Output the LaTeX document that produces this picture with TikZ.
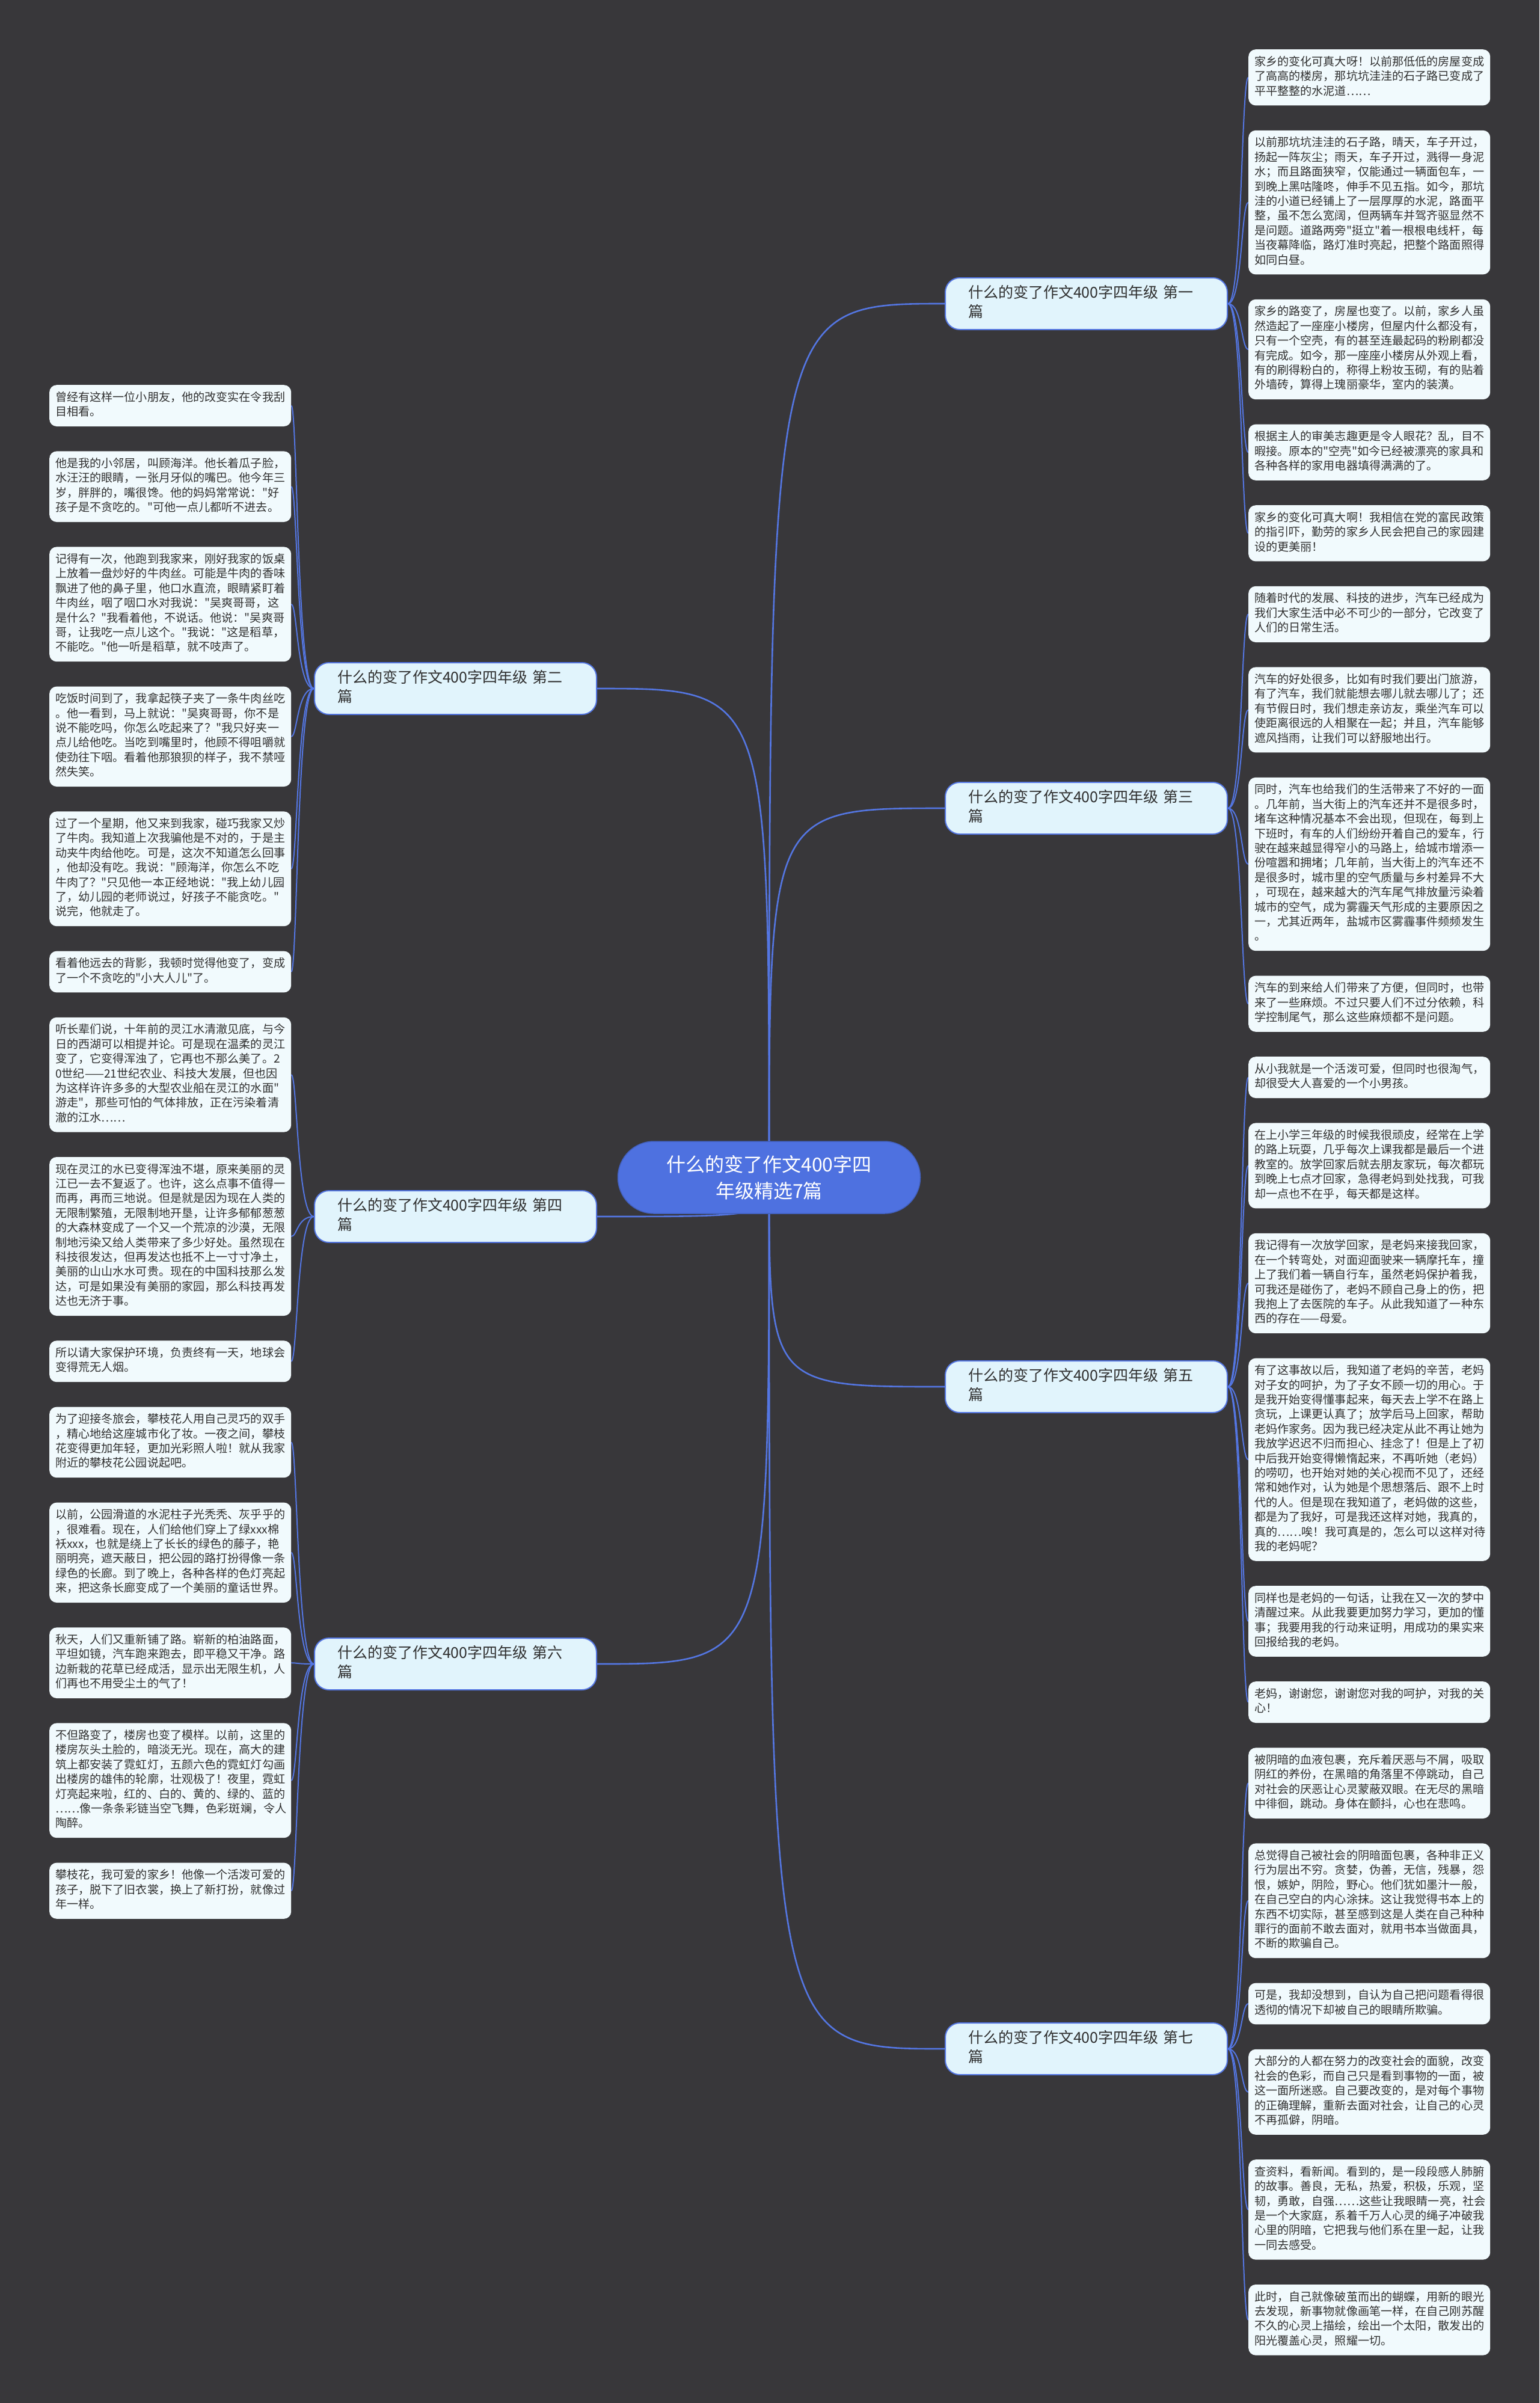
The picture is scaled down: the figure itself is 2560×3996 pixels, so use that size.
\documentclass[tikz,border=0pt]{standalone}
\usepackage{fontspec}
\setmainfont{Noto Sans CJK SC}
\newfontfamily\cjkfont{Noto Sans CJK SC}
\usetikzlibrary{positioning,backgrounds}
\definecolor{canvasgray}{RGB}{56,55,58}
\definecolor{rootblue}{RGB}{78,113,224}
\definecolor{linkblue}{RGB}{84,118,226}
\definecolor{branchfill}{RGB}{225,244,252}
\definecolor{leaffill}{RGB}{241,250,253}
\definecolor{inkdark}{RGB}{48,48,48}

\begin{document}
\begin{tikzpicture}[
  x=1pt, y=-1pt,
  root/.style={rounded corners=60pt, fill=rootblue, draw=rootblue!85!black,
               line width=1.5pt, minimum width=503pt, minimum height=120pt,
               align=center, text=white,
               font=\cjkfont\fontsize{32pt}{44pt}\selectfont},
  branch/.style={rounded corners=24pt, fill=branchfill, draw=linkblue,
                 line width=2pt, text width=393pt, inner xsep=38pt,
                 inner ysep=11pt, align=left, text=inkdark,
                 font=\cjkfont\fontsize{25pt}{32pt}\selectfont,
                 execute at begin node=\strut, execute at end node=\strut},
  leaf/.style={rounded corners=12pt, fill=leaffill, text width=382pt,
               inner xsep=10pt, inner ysep=10pt, align=left, text=inkdark,
               font=\cjkfont\fontsize{19.1pt}{24.4pt}\selectfont,
               execute at begin node=\strut, execute at end node=\strut},
  link/.style={draw=linkblue, line width=2pt},
  trunk/.style={draw=linkblue, line width=2.6pt},
]
\useasboundingbox (0,0) rectangle (2560,3996);

% -------------------------------------------------------------------------
% Root and the seven essays.
% -------------------------------------------------------------------------
\node[root] (root) at (1279,1958) {什么的变了作文400字四\\年级精选7篇};

\node[branch, anchor=west] (sec1) at (1571,505)  {什么的变了作文400字四年级 第一\\篇};
\node[branch, anchor=west] (sec3) at (1571,1344) {什么的变了作文400字四年级 第三\\篇};
\node[branch, anchor=west] (sec5) at (1571,2306) {什么的变了作文400字四年级 第五\\篇};
\node[branch, anchor=west] (sec7) at (1571,3407) {什么的变了作文400字四年级 第七\\篇};

\node[branch, anchor=east] (sec2) at (993,1145) {什么的变了作文400字四年级 第二\\篇};
\node[branch, anchor=east] (sec4) at (993,2023) {什么的变了作文400字四年级 第四\\篇};
\node[branch, anchor=east] (sec6) at (993,2767) {什么的变了作文400字四年级 第六\\篇};

% -------------------------------------------------------------------------
% Right column: paragraphs of essays 1, 3, 5 and 7.
% -------------------------------------------------------------------------
\node[leaf, anchor=north west] (s1a) at (2076,82)
  {家乡的变化可真大呀！以前那低低的房屋变成\\了高高的楼房，那坑坑洼洼的石子路已变成了\\平平整整的水泥道……};
\node[leaf, below=41pt of s1a] (s1b)
  {以前那坑坑洼洼的石子路，晴天，车子开过，\\扬起一阵灰尘；雨天，车子开过，溅得一身泥\\水；而且路面狭窄，仅能通过一辆面包车，一\\到晚上黑咕隆咚，伸手不见五指。如今，那坑\\洼的小道已经铺上了一层厚厚的水泥，路面平\\整，虽不怎么宽阔，但两辆车并驾齐驱显然不\\是问题。道路两旁"挺立"着一根根电线杆，每\\当夜幕降临，路灯准时亮起，把整个路面照得\\如同白昼。};
\node[leaf, below=41pt of s1b] (s1c)
  {家乡的路变了，房屋也变了。以前，家乡人虽\\然造起了一座座小楼房，但屋内什么都没有，\\只有一个空壳，有的甚至连最起码的粉刷都没\\有完成。如今，那一座座小楼房从外观上看，\\有的刷得粉白的，称得上粉妆玉砌，有的贴着\\外墙砖，算得上瑰丽豪华，室内的装潢。};
\node[leaf, below=41pt of s1c] (s1d)
  {根据主人的审美志趣更是令人眼花？乱，目不\\暇接。原本的"空壳"如今已经被漂亮的家具和\\各种各样的家用电器填得满满的了。};
\node[leaf, below=41pt of s1d] (s1e)
  {家乡的变化可真大啊！我相信在党的富民政策\\的指引吓，勤劳的家乡人民会把自己的家园建\\设的更美丽！};

\node[leaf, below=41pt of s1e] (s3a)
  {随着时代的发展、科技的进步，汽车已经成为\\我们大家生活中必不可少的一部分，它改变了\\人们的日常生活。};
\node[leaf, below=41pt of s3a] (s3b)
  {汽车的好处很多，比如有时我们要出门旅游，\\有了汽车，我们就能想去哪儿就去哪儿了；还\\有节假日时，我们想走亲访友，乘坐汽车可以\\使距离很远的人相聚在一起；并且，汽车能够\\遮风挡雨，让我们可以舒服地出行。};
\node[leaf, below=41pt of s3b] (s3c)
  {同时，汽车也给我们的生活带来了不好的一面\\。几年前，当大街上的汽车还并不是很多时，\\堵车这种情况基本不会出现，但现在，每到上\\下班时，有车的人们纷纷开着自己的爱车，行\\驶在越来越显得窄小的马路上，给城市增添一\\份喧嚣和拥堵；几年前，当大街上的汽车还不\\是很多时，城市里的空气质量与乡村差异不大\\，可现在，越来越大的汽车尾气排放量污染着\\城市的空气，成为雾霾天气形成的主要原因之\\一，尤其近两年，盐城市区雾霾事件频频发生\\。};
\node[leaf, below=41pt of s3c] (s3d)
  {汽车的到来给人们带来了方便，但同时，也带\\来了一些麻烦。不过只要人们不过分依赖，科\\学控制尾气，那么这些麻烦都不是问题。};

\node[leaf, below=41pt of s3d] (s5a)
  {从小我就是一个活泼可爱，但同时也很淘气，\\却很受大人喜爱的一个小男孩。};
\node[leaf, below=41pt of s5a] (s5b)
  {在上小学三年级的时候我很顽皮，经常在上学\\的路上玩耍，几乎每次上课我都是最后一个进\\教室的。放学回家后就去朋友家玩，每次都玩\\到晚上七点才回家，急得老妈到处找我，可我\\却一点也不在乎，每天都是这样。};
\node[leaf, below=41pt of s5b] (s5c)
  {我记得有一次放学回家，是老妈来接我回家，\\在一个转弯处，对面迎面驶来一辆摩托车，撞\\上了我们着一辆自行车，虽然老妈保护着我，\\可我还是碰伤了，老妈不顾自己身上的伤，把\\我抱上了去医院的车子。从此我知道了一种东\\西的存在——母爱。};
\node[leaf, below=41pt of s5c] (s5d)
  {有了这事故以后，我知道了老妈的辛苦，老妈\\对子女的呵护，为了子女不顾一切的用心。于\\是我开始变得懂事起来，每天去上学不在路上\\贪玩，上课更认真了；放学后马上回家，帮助\\老妈作家务。因为我已经决定从此不再让她为\\我放学迟迟不归而担心、挂念了！但是上了初\\中后我开始变得懒惰起来，不再听她（老妈）\\的唠叨，也开始对她的关心视而不见了，还经\\常和她作对，认为她是个思想落后、跟不上时\\代的人。但是现在我知道了，老妈做的这些，\\都是为了我好，可是我还这样对她，我真的，\\真的……唉！我可真是的，怎么可以这样对待\\我的老妈呢？};
\node[leaf, below=41pt of s5d] (s5e)
  {同样也是老妈的一句话，让我在又一次的梦中\\清醒过来。从此我要更加努力学习，更加的懂\\事；我要用我的行动来证明，用成功的果实来\\回报给我的老妈。};
\node[leaf, below=41pt of s5e] (s5f)
  {老妈，谢谢您，谢谢您对我的呵护，对我的关\\心！};

\node[leaf, below=41pt of s5f] (s7a)
  {被阴暗的血液包裹，充斥着厌恶与不屑，吸取\\阴红的养份，在黑暗的角落里不停跳动，自己\\对社会的厌恶让心灵蒙蔽双眼。在无尽的黑暗\\中徘徊，跳动。身体在颤抖，心也在悲鸣。};
\node[leaf, below=41pt of s7a] (s7b)
  {总觉得自己被社会的阴暗面包裹，各种非正义\\行为层出不穷。贪婪，伪善，无信，残暴，怨\\恨，嫉妒，阴险，野心。他们犹如墨汁一般，\\在自己空白的内心涂抹。这让我觉得书本上的\\东西不切实际，甚至感到这是人类在自己种种\\罪行的面前不敢去面对，就用书本当做面具，\\不断的欺骗自己。};
\node[leaf, below=41pt of s7b] (s7c)
  {可是，我却没想到，自认为自己把问题看得很\\透彻的情况下却被自己的眼睛所欺骗。};
\node[leaf, below=41pt of s7c] (s7d)
  {大部分的人都在努力的改变社会的面貌，改变\\社会的色彩，而自己只是看到事物的一面，被\\这一面所迷惑。自己要改变的，是对每个事物\\的正确理解，重新去面对社会，让自己的心灵\\不再孤僻，阴暗。};
\node[leaf, below=41pt of s7d] (s7e)
  {查资料，看新闻。看到的，是一段段感人肺腑\\的故事。善良，无私，热爱，积极，乐观，坚\\韧，勇敢，自强……这些让我眼睛一亮，社会\\是一个大家庭，系着千万人心灵的绳子冲破我\\心里的阴暗，它把我与他们系在里一起，让我\\一同去感受。};
\node[leaf, below=41pt of s7e] (s7f)
  {此时，自己就像破茧而出的蝴蝶，用新的眼光\\去发现，新事物就像画笔一样，在自己刚苏醒\\不久的心灵上描绘，绘出一个太阳，散发出的\\阳光覆盖心灵，照耀一切。};

% -------------------------------------------------------------------------
% Left column: paragraphs of essays 2, 4 and 6.
% -------------------------------------------------------------------------
\node[leaf, anchor=north west] (s2a) at (82,640)
  {曾经有这样一位小朋友，他的改变实在令我刮\\目相看。};
\node[leaf, below=41pt of s2a] (s2b)
  {他是我的小邻居，叫顾海洋。他长着瓜子脸，\\水汪汪的眼睛，一张月牙似的嘴巴。他今年三\\岁，胖胖的，嘴很馋。他的妈妈常常说："好\\孩子是不贪吃的。"可他一点儿都听不进去。};
\node[leaf, below=41pt of s2b] (s2c)
  {记得有一次，他跑到我家来，刚好我家的饭桌\\上放着一盘炒好的牛肉丝。可能是牛肉的香味\\飘进了他的鼻子里，他口水直流，眼睛紧盯着\\牛肉丝，咽了咽口水对我说："吴爽哥哥，这\\是什么？"我看着他，不说话。他说："吴爽哥\\哥，让我吃一点儿这个。"我说："这是稻草，\\不能吃。"他一听是稻草，就不吱声了。};
\node[leaf, below=41pt of s2c] (s2d)
  {吃饭时间到了，我拿起筷子夹了一条牛肉丝吃\\。他一看到，马上就说："吴爽哥哥，你不是\\说不能吃吗，你怎么吃起来了？"我只好夹一\\点儿给他吃。当吃到嘴里时，他顾不得咀嚼就\\使劲往下咽。看着他那狼狈的样子，我不禁哑\\然失笑。};
\node[leaf, below=41pt of s2d] (s2e)
  {过了一个星期，他又来到我家，碰巧我家又炒\\了牛肉。我知道上次我骗他是不对的，于是主\\动夹牛肉给他吃。可是，这次不知道怎么回事\\，他却没有吃。我说："顾海洋，你怎么不吃\\牛肉了？"只见他一本正经地说："我上幼儿园\\了，幼儿园的老师说过，好孩子不能贪吃。"\\说完，他就走了。};
\node[leaf, below=41pt of s2e] (s2f)
  {看着他远去的背影，我顿时觉得他变了，变成\\了一个不贪吃的"小大人儿"了。};

\node[leaf, below=41pt of s2f] (s4a)
  {听长辈们说，十年前的灵江水清澈见底，与今\\日的西湖可以相提并论。可是现在温柔的灵江\\变了，它变得浑浊了，它再也不那么美了。2\\0世纪——21世纪农业、科技大发展，但也因\\为这样许许多多的大型农业船在灵江的水面"\\游走"，那些可怕的气体排放，正在污染着清\\澈的江水……};
\node[leaf, below=41pt of s4a] (s4b)
  {现在灵江的水已变得浑浊不堪，原来美丽的灵\\江已一去不复返了。也许，这么点事不值得一\\而再，再而三地说。但是就是因为现在人类的\\无限制繁殖，无限制地开垦，让许多郁郁葱葱\\的大森林变成了一个又一个荒凉的沙漠，无限\\制地污染又给人类带来了多少好处。虽然现在\\科技很发达，但再发达也抵不上一寸寸净土，\\美丽的山山水水可贵。现在的中国科技那么发\\达，可是如果没有美丽的家园，那么科技再发\\达也无济于事。};
\node[leaf, below=41pt of s4b] (s4c)
  {所以请大家保护环境，负责终有一天，地球会\\变得荒无人烟。};

\node[leaf, below=41pt of s4c] (s6a)
  {为了迎接冬旅会，攀枝花人用自己灵巧的双手\\，精心地给这座城市化了妆。一夜之间，攀枝\\花变得更加年轻，更加光彩照人啦！就从我家\\附近的攀枝花公园说起吧。};
\node[leaf, below=41pt of s6a] (s6b)
  {以前，公园滑道的水泥柱子光秃秃、灰乎乎的\\，很难看。现在，人们给他们穿上了绿xxx棉\\袄xxx，也就是绕上了长长的绿色的藤子，艳\\丽明亮，遮天蔽日，把公园的路打扮得像一条\\绿色的长廊。到了晚上，各种各样的色灯亮起\\来，把这条长廊变成了一个美丽的童话世界。};
\node[leaf, below=41pt of s6b] (s6c)
  {秋天，人们又重新铺了路。崭新的柏油路面，\\平坦如镜，汽车跑来跑去，即平稳又干净。路\\边新栽的花草已经成活，显示出无限生机，人\\们再也不用受尘土的气了！};
\node[leaf, below=41pt of s6c] (s6d)
  {不但路变了，楼房也变了模样。以前，这里的\\楼房灰头土脸的，暗淡无光。现在，高大的建\\筑上都安装了霓虹灯，五颜六色的霓虹灯勾画\\出楼房的雄伟的轮廓，壮观极了！夜里，霓虹\\灯亮起来啦，红的、白的、黄的、绿的、蓝的\\……像一条条彩链当空飞舞，色彩斑斓，令人\\陶醉。};
\node[leaf, below=41pt of s6d] (s6e)
  {攀枝花，我可爱的家乡！他像一个活泼可爱的\\孩子，脱下了旧衣裳，换上了新打扮，就像过\\年一样。};

% -------------------------------------------------------------------------
% Canvas and connectors, kept behind the boxes.
% -------------------------------------------------------------------------
\begin{scope}[on background layer]
  \fill[canvasgray] (0,0) rectangle (2560,3996);

  \foreach \s in {sec1,sec3,sec5,sec7}
    \draw[trunk] (root.center) .. controls (root.center |- \s.west) .. (\s.west);
  \foreach \s in {sec2,sec4,sec6}
    \draw[trunk] (root.center) .. controls (root.center |- \s.east) .. (\s.east);

  \foreach \s/\l in {sec1/s1a,sec1/s1b,sec1/s1c,sec1/s1d,sec1/s1e,
                     sec3/s3a,sec3/s3b,sec3/s3c,sec3/s3d,
                     sec5/s5a,sec5/s5b,sec5/s5c,sec5/s5d,sec5/s5e,sec5/s5f,
                     sec7/s7a,sec7/s7b,sec7/s7c,sec7/s7d,sec7/s7e,sec7/s7f}
    \draw[link] (\s.east) .. controls +(24,0) and +(-12,0) .. (\l.west);
  \foreach \s/\l in {sec2/s2a,sec2/s2b,sec2/s2c,sec2/s2d,sec2/s2e,sec2/s2f,
                     sec4/s4a,sec4/s4b,sec4/s4c,
                     sec6/s6a,sec6/s6b,sec6/s6c,sec6/s6d,sec6/s6e}
    \draw[link] (\s.west) .. controls +(-28,0) and +(10,0) .. (\l.east);
\end{scope}

\end{tikzpicture}
\end{document}
